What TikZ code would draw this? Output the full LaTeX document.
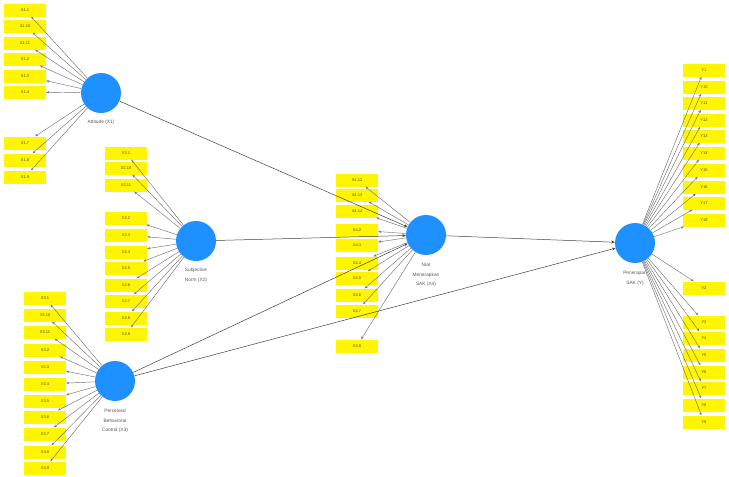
\documentclass[tikz,border=0pt]{standalone}
\usepackage{fontspec}
\setmainfont{Liberation Sans}
\usetikzlibrary{arrows.meta,positioning}
\definecolor{lvblue}{RGB}{30,144,255}
\definecolor{indyellow}{RGB}{255,245,0}
\definecolor{linegray}{RGB}{115,115,115}
\begin{document}
\begin{tikzpicture}[x=1pt,y=-1pt,
  ind/.style={rectangle, fill=indyellow, minimum width=42pt, minimum height=13pt, inner sep=0pt, font=\fontsize{4}{5}\selectfont, text=black!70},
  lv/.style={circle, fill=lvblue, minimum size=40pt, inner sep=0pt},
  lvlabel/.style={font=\fontsize{4.8}{9.5}\selectfont, text=black!65, align=center, inner sep=0pt},
  load/.style={draw=linegray, line width=0.45pt, -{Stealth[length=3pt,width=2.4pt]}},
  path/.style={draw=black!75, line width=0.5pt, -{Stealth[length=3.5pt,width=3pt]}}]
\useasboundingbox (0,0) rectangle (729,477);

% latent variables
\node[lv] (lx1) at (101,93){};
\node[lv] (lx2) at (196,241){};
\node[lv] (lx3) at (115,381){};
\node[lv] (lx4) at (426,235){};
\node[lv] (ly) at (635,243){};
\node[lvlabel, below=7pt of lx1] (tx1){Attitude (X1)};
\node[lvlabel, below=7pt of lx2] (tx2){Subjective\\Norm (X2)};
\node[lvlabel, below=8pt of lx3] (tx3){Perceived\\Behavioral\\Control (X3)};
\node[lvlabel, below=8pt of lx4] (tx4){Niat\\Menerapkan\\SAK (X4)};
\node[lvlabel, below=8pt of ly] (ty){Penerapan\\SAK (Y)};

% indicators X1
\node[ind] (x1n1) at (25,10){X1.1};
\node[ind] (x1n10) at (25,26){X1.10};
\node[ind] (x1n11) at (25,43){X1.11};
\node[ind] (x1n2) at (25,59){X1.2};
\node[ind] (x1n3) at (25,76){X1.3};
\node[ind] (x1n4) at (25,92){X1.4};
\node[ind] (x1n7) at (25,143){X1.7};
\node[ind] (x1n8) at (25,160){X1.8};
\node[ind] (x1n9) at (25,177){X1.9};

% indicators X2
\node[ind] (x2n1) at (126,153){X2.1};
\node[ind] (x2n10) at (126,168){X2.10};
\node[ind] (x2n11) at (126,185){X2.11};
\node[ind] (x2n2) at (126,218){X2.2};
\node[ind] (x2n3) at (126,235){X2.3};
\node[ind] (x2n4) at (126,252){X2.4};
\node[ind] (x2n5) at (126,268){X2.5};
\node[ind] (x2n6) at (126,285){X2.6};
\node[ind] (x2n7) at (126,301){X2.7};
\node[ind] (x2n8) at (126,318){X2.8};
\node[ind] (x2n9) at (126,334){X2.9};

% indicators X3
\node[ind] (x3n1) at (45,298){X3.1};
\node[ind] (x3n10) at (45,315){X3.10};
\node[ind] (x3n11) at (45,332){X3.11};
\node[ind] (x3n2) at (45,350){X3.2};
\node[ind] (x3n3) at (45,367){X3.3};
\node[ind] (x3n4) at (45,384){X3.4};
\node[ind] (x3n5) at (45,401){X3.5};
\node[ind] (x3n6) at (45,417){X3.6};
\node[ind] (x3n7) at (45,434){X3.7};
\node[ind] (x3n8) at (45,452){X3.8};
\node[ind] (x3n9) at (45,468){X3.9};

% indicators X4
\node[ind] (x4n12) at (357,180){X4.12};
\node[ind] (x4n13) at (357,195){X4.13};
\node[ind] (x4n14) at (357,211){X4.14};
\node[ind] (x4n2) at (357,230){X4.2};
\node[ind] (x4n3) at (357,245){X4.3};
\node[ind] (x4n4) at (357,263){X4.4};
\node[ind] (x4n5) at (357,278){X4.5};
\node[ind] (x4n6) at (357,295){X4.6};
\node[ind] (x4n7) at (357,311){X4.7};
\node[ind] (x4n8) at (357,346){X4.8};

% indicators Y
\node[ind] (yn1) at (704,70){Y1};
\node[ind] (yn10) at (704,87){Y10};
\node[ind] (yn11) at (704,103){Y11};
\node[ind] (yn12) at (704,120){Y12};
\node[ind] (yn13) at (704,136){Y13};
\node[ind] (yn14) at (704,153){Y14};
\node[ind] (yn15) at (704,170){Y15};
\node[ind] (yn16) at (704,187){Y16};
\node[ind] (yn17) at (704,203){Y17};
\node[ind] (yn18) at (704,220){Y18};
\node[ind] (yn2) at (704,288){Y2};
\node[ind] (yn3) at (704,322){Y3};
\node[ind] (yn4) at (704,338){Y4};
\node[ind] (yn5) at (704,355){Y5};
\node[ind] (yn6) at (704,372){Y6};
\node[ind] (yn7) at (704,388){Y7};
\node[ind] (yn8) at (704,405){Y8};
\node[ind] (yn9) at (704,422){Y9};

% loadings
\draw[load](lx1) -- (x1n1);
\draw[load](lx1) -- (x1n10);
\draw[load](lx1) -- (x1n11);
\draw[load](lx1) -- (x1n2);
\draw[load](lx1) -- (x1n3);
\draw[load](lx1) -- (x1n4);
\draw[load](lx1) -- (x1n7);
\draw[load](lx1) -- (x1n8);
\draw[load](lx1) -- (x1n9);
\draw[load](lx2) -- (x2n1);
\draw[load](lx2) -- (x2n10);
\draw[load](lx2) -- (x2n11);
\draw[load](lx2) -- (x2n2);
\draw[load](lx2) -- (x2n3);
\draw[load](lx2) -- (x2n4);
\draw[load](lx2) -- (x2n5);
\draw[load](lx2) -- (x2n6);
\draw[load](lx2) -- (x2n7);
\draw[load](lx2) -- (x2n8);
\draw[load](lx2) -- (x2n9);
\draw[load](lx3) -- (x3n1);
\draw[load](lx3) -- (x3n10);
\draw[load](lx3) -- (x3n11);
\draw[load](lx3) -- (x3n2);
\draw[load](lx3) -- (x3n3);
\draw[load](lx3) -- (x3n4);
\draw[load](lx3) -- (x3n5);
\draw[load](lx3) -- (x3n6);
\draw[load](lx3) -- (x3n7);
\draw[load](lx3) -- (x3n8);
\draw[load](lx3) -- (x3n9);
\draw[load](lx4) -- (x4n12);
\draw[load](lx4) -- (x4n13);
\draw[load](lx4) -- (x4n14);
\draw[load](lx4) -- (x4n2);
\draw[load](lx4) -- (x4n3);
\draw[load](lx4) -- (x4n4);
\draw[load](lx4) -- (x4n5);
\draw[load](lx4) -- (x4n6);
\draw[load](lx4) -- (x4n7);
\draw[load](lx4) -- (x4n8);
\draw[load](ly) -- (yn1);
\draw[load](ly) -- (yn10);
\draw[load](ly) -- (yn11);
\draw[load](ly) -- (yn12);
\draw[load](ly) -- (yn13);
\draw[load](ly) -- (yn14);
\draw[load](ly) -- (yn15);
\draw[load](ly) -- (yn16);
\draw[load](ly) -- (yn17);
\draw[load](ly) -- (yn18);
\draw[load](ly) -- (yn2);
\draw[load](ly) -- (yn3);
\draw[load](ly) -- (yn4);
\draw[load](ly) -- (yn5);
\draw[load](ly) -- (yn6);
\draw[load](ly) -- (yn7);
\draw[load](ly) -- (yn8);
\draw[load](ly) -- (yn9);

% paths
\draw[path](lx1) -- (lx4);
\draw[path](lx2) -- (lx4);
\draw[path](lx3) -- (lx4);
\draw[path](lx3) -- (ly);
\draw[path](lx4) -- (ly);

\end{tikzpicture}
\end{document}
